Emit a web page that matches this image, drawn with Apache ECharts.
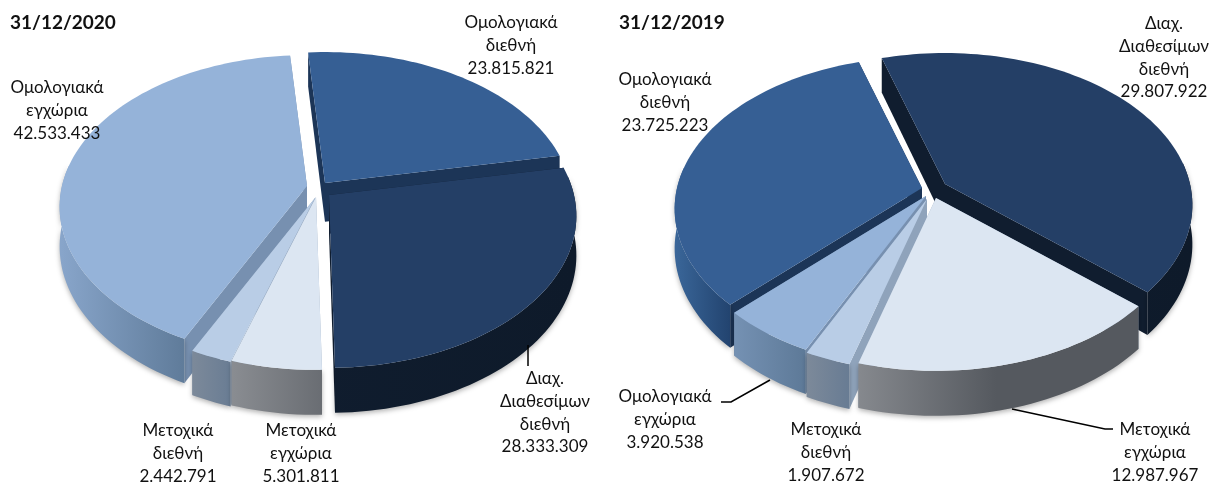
<!DOCTYPE html>
<html><head><meta charset="utf-8">
<style>html,body{margin:0;padding:0;background:#fff}#c{width:1210px;height:482px}</style>
<script src="https://cdn.jsdelivr.net/npm/echarts@6/dist/echarts.min.js"></script>
</head><body><div id="c"></div>
<script>
// ---------- data ----------
const titles = ['31/12/2020', '31/12/2019'];
const categories2020 = ['Ομολογιακά\nδιεθνή', 'Διαχ.\nΔιαθεσίμων\nδιεθνή', 'Μετοχικά\nεγχώρια', 'Μετοχικά\nδιεθνή', 'Ομολογιακά\nεγχώρια'];
const values2020 = [23815821, 28333309, 5301811, 2442791, 42533433];
const categories2019 = ['Διαχ.\nΔιαθεσίμων\nδιεθνή', 'Μετοχικά\nεγχώρια', 'Μετοχικά\nδιεθνή', 'Ομολογιακά\nεγχώρια', 'Ομολογιακά\nδιεθνή'];
const values2019 = [29807922, 12987967, 1907672, 3920538, 23725223];

// ---------- styles ----------
const FONT = 'Lato, "Open Sans", sans-serif';
// wall: colours at two fractions of the pie's width
const skins = {
  'Ομολογιακά\nδιεθνή':  {top:'#365f94', wall:[0,'#3a6699',0.13,'#1d3c66'], face:'#1c3557'},
  'Διαχ.\nΔιαθεσίμων\nδιεθνή': {top:'#243f66', wall:[0,'#111f32',1,'#0e1a2a'], face:'#101d2f'},
  'Μετοχικά\nεγχώρια':   {top:'#dce6f2', wall:[0.33,'#8a8d92',0.62,'#55595f'], face:'#97a9bf'},
  'Μετοχικά\nδιεθνή':    {top:'#b9cde6', wall:[0.24,'#808c9b',0.34,'#677b93'], face:'#8fa3bb'},
  'Ομολογιακά\nεγχώρια': {top:'#95b3d9', wall:[0,'#88a5ca',0.26,'#5c7896'], face:'#7790b0'}
};

// ---------- layout ----------
const pies = [
  {categories:categories2020, values:values2020, cx:316, cy:197, startDeg:-4.5, left:61, width:514,
   shifts:[[9,-14],[13,-2],[0,0],[-1,1],[-9,-11]],
   labels:[[511,23],[545,379],[301,431],[178,431],[57,88]],
   leaders:[null,[[528,345],[528,366]],null,null,null]},
  {categories:categories2019, values:values2019, cx:935, cy:197, startDeg:-17, left:675, width:518,
   shifts:[[10,-13],[1,1],[-8,2],[-9,-1],[-13,-9]],
   labels:[[1164,24],[1155,430],[826,430],[665,397],[665,80]],
   leaders:[null,[[1012,409],[1105,429],[1113,429]],null,[[721,402],[731,402],[770,380]],null]}
];
const R = 245, RY = 149, T = 0.138, DEPTH = 45, LINE_H = 22.6, LABEL_SIZE = 17;

function project(a){           // clockwise angle from the back of the disc
  const u = Math.sin(a), v = -Math.cos(a), w = 1 - T * v;
  return {x:R*u/w, y:RY*v/w, d:DEPTH*(1-T)/w, v};
}
function fmt(n){ return String(n).replace(/\B(?=(\d{3})+$)/g,'.'); }

function renderer(pie){
  const total = pie.values.reduce((s,x)=>s+x,0);
  const start = pie.startDeg*Math.PI/180;
  const spans = []; let acc = start;
  pie.values.forEach(val=>{ const a1 = acc + val/total*2*Math.PI; spans.push([acc,a1]); acc=a1; });
  const ranks = spans.map((s,i)=>({i,v:-Math.cos((s[0]+s[1])/2)})).sort((p,q)=>p.v-q.v).map(o=>o.i);
  return function(params, api){
    const i = params.dataIndex, val = api.value(0);
    const [a0] = spans[i], a1 = a0 + val/total*2*Math.PI;
    const skin = skins[pie.categories[i]];
    const ox = pie.cx + pie.shifts[i][0], oy = pie.cy + pie.shifts[i][1];
    const steps = Math.max(8, Math.ceil((a1-a0)/0.03));
    const arc = [];
    for(let k=0;k<=steps;k++) arc.push(project(a0+(a1-a0)*k/steps));
    const base = 100*ranks.indexOf(i);
    const topPts = [[ox,oy]].concat(arc.map(p=>[ox+p.x,oy+p.y]));
    const D0 = DEPTH*(1-T);
    const face = p => [[ox,oy],[ox+p.x,oy+p.y],[ox+p.x,oy+p.y+p.d],[ox,oy+D0]];
    const kids = [];
    kids.push({type:'polygon',z2:base+1,shape:{points:face(arc[0])},style:{fill:skin.face}});
    kids.push({type:'polygon',z2:base+1,shape:{points:face(arc[arc.length-1])},style:{fill:skin.face}});
    const vis = arc.filter(p=>p.v>-0.15);
    if(vis.length>1){
      const upper = vis.map(p=>[ox+p.x,oy+p.y]);
      const lower = vis.slice().reverse().map(p=>[ox+p.x,oy+p.y+p.d]);
      const w = skin.wall;
      kids.push({type:'polygon',z2:base+2,shape:{points:upper.concat(lower)},style:{
        fill:new echarts.graphic.LinearGradient(pie.left+w[0]*pie.width,0,pie.left+w[2]*pie.width,0,
          [{offset:0,color:w[1]},{offset:1,color:w[3]}],true),
        shadowBlur:5,shadowColor:'rgba(0,0,0,0.3)',shadowOffsetY:2}});
    }
    kids.push({type:'polygon',z2:base+3,shape:{points:topPts},style:{fill:skin.top}});
    // label and leader line
    const lab = pie.labels[i];
    kids.push({type:'text',z2:1000,style:{
      text:pie.categories[i]+'\n'+fmt(val),x:lab[0],y:lab[1]-LINE_H/2,align:'center',verticalAlign:'top',
      fontFamily:FONT,fontSize:LABEL_SIZE,lineHeight:LINE_H,fill:'#111'}});
    if(pie.leaders[i]) kids.push({type:'polyline',z2:999,shape:{points:pie.leaders[i]},style:{fill:'none',stroke:'#000',lineWidth:1.5}});
    return {type:'group',children:kids};
  };
}

const chart = echarts.init(document.getElementById('c'),null,{renderer:'canvas'});
chart.setOption({
  animation:false,
  backgroundColor:'#fff',
  tooltip:{show:false},
  title:titles.map((t,i)=>({text:t,left:i?619:10,top:13,padding:0,textStyle:{fontFamily:FONT,fontSize:19,fontWeight:'bold',color:'#111'}})),
  series:pies.map(p=>({type:'custom',coordinateSystem:'none',silent:true,clip:false,
    data:p.values.map((v,i)=>({name:p.categories[i],value:[v]})),
    renderItem:renderer(p)}))
});
</script></body></html>
